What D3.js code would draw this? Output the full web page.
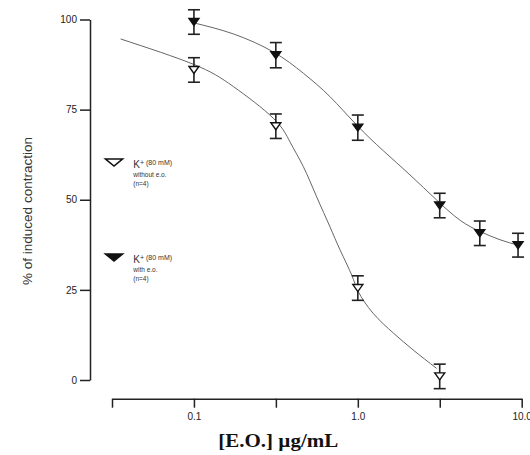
<!DOCTYPE html>
<html lang="en">
<head>
  <meta charset="UTF-8">
  <title>% of induced contraction vs [E.O.]</title>
  <script src="https://cdn.jsdelivr.net/npm/d3@7"></script>
  <style>
    body { margin: 0; background: #fff; }
    svg { display: block; }
    .axis path, .axis line { stroke: #222; stroke-width: 1.5px; }
    .axis text { font: 10px "Liberation Sans", Arial, sans-serif; fill: #222; }
    .curve { fill: none; stroke: #666; stroke-width: 1px; }
    .err { stroke: #222; stroke-width: 1.6px; }
    .leg { font-family: "Liberation Sans", Arial, sans-serif; fill: #333; }
  </style>
</head>
<body>
  <svg width="530" height="455"></svg>

  <script>
    // concentrations (µg/mL) and mean % contraction +/- SEM
    var conc = [0.1, 0.316, 1.0, 3.16, 5.55, 9.5];
    var withoutMean = [86.0, 70.4, 25.5, 1.0];
    var withoutErr = [3.4, 3.4, 3.4, 3.4];
    var withMean = [99.3, 90.1, 70.0, 48.4, 40.7, 37.4];
    var withErr = [3.4, 3.5, 3.5, 3.4, 3.4, 3.3];

    // fitted curves, points
    var withoutCurveX = [0.0357, 0.099, 0.174, 0.305, 0.386, 0.465, 0.561, 0.676, 0.779, 0.918, 1.007, 1.24, 1.65, 2.18, 3.03];
    var withoutCurveY = [94.6, 87.6, 81.4, 72.6, 66.0, 59.2, 50.8, 42.5, 36.1, 29.1, 24.5, 18.5, 13.0, 8.3, 3.2];
    var withCurveX = [0.099, 0.174, 0.305, 0.465, 0.676, 0.985, 1.43, 2.08, 3.03, 4.21, 5.57, 7.38, 9.53];
    var withCurveY = [99.1, 96.0, 91.0, 85.1, 78.6, 70.7, 63.6, 56.9, 49.9, 44.3, 41.2, 38.9, 37.4];

    var yTicks = [0, 25, 50, 75, 100];
    var xTicks = [Math.pow(10, -1.5), 0.1, Math.pow(10, -0.5), 1, Math.pow(10, 0.5), 10];
    var xTickLabels = ["", "0.1", "", "1.0", "", "10.0"];

    var svg = d3.select("svg");

    var x = d3.scaleLog().domain([Math.pow(10, -1.5), 10]).range([112, 521.7]);
    var y = d3.scaleLinear().domain([0, 100]).range([380, 19.5]);

    // axes
    svg.append("g")
      .attr("class", "axis")
      .attr("transform", "translate(90,0)")
      .call(d3.axisLeft(y).tickValues(yTicks).tickSize(10).tickSizeOuter(0).tickPadding(3));

    svg.append("g")
      .attr("class", "axis")
      .attr("transform", "translate(0,398.7)")
      .call(d3.axisBottom(x).tickValues(xTicks).tickSize(9).tickSizeOuter(0).tickPadding(5)
        .tickFormat(function (d, i) { return xTickLabels[i]; }));

    // axis titles
    svg.append("text")
      .attr("transform", "translate(32,211) rotate(-90)")
      .attr("text-anchor", "middle")
      .style("font", "13.5px 'Liberation Sans', Arial, sans-serif")
      .style("fill", "#333")
      .text("% of induced contraction");

    svg.append("text")
      .attr("x", 278.3)
      .attr("y", 446.5)
      .attr("text-anchor", "middle")
      .attr("textLength", 120)
      .attr("lengthAdjust", "spacingAndGlyphs")
      .style("font", "bold 18px 'Liberation Serif', 'Times New Roman', serif")
      .style("fill", "#111")
      .text("[E.O.] µg/mL");

    // curves
    var line = d3.line()
      .x(function (d) { return x(d[0]); })
      .y(function (d) { return y(d[1]); })
      .curve(d3.curveNatural);

    svg.append("path").attr("class", "curve").attr("d", line(d3.zip(withoutCurveX, withoutCurveY)));
    svg.append("path").attr("class", "curve").attr("d", line(d3.zip(withCurveX, withCurveY)));

    // triangle marker, pointing down
    function tri(cx, cy, w, h) {
      return "M" + (cx - w / 2) + "," + (cy - h / 2) + "L" + (cx + w / 2) + "," + (cy - h / 2) + "L" + cx + "," + (cy + h / 2) + "Z";
    }

    function drawSeries(means, errs, filled) {
      var pts = means.map(function (m, i) { return { x: conc[i], m: m, e: errs[i] }; });
      var g = svg.append("g");
      var eb = g.selectAll("g.eb").data(pts).enter().append("g").attr("class", "eb");
      eb.append("line").attr("class", "err")
        .attr("x1", function (d) { return x(d.x); }).attr("x2", function (d) { return x(d.x); })
        .attr("y1", function (d) { return y(d.m + d.e); }).attr("y2", function (d) { return y(d.m - d.e); });
      [1, -1].forEach(function (s) {
        eb.append("line").attr("class", "err")
          .attr("x1", function (d) { return x(d.x) - 6; }).attr("x2", function (d) { return x(d.x) + 6; })
          .attr("y1", function (d) { return y(d.m + s * d.e); }).attr("y2", function (d) { return y(d.m + s * d.e); });
      });
      g.selectAll("path").data(pts).enter().append("path")
        .attr("d", function (d) { return tri(x(d.x), y(d.m), 10, 7); })
        .style("fill", filled ? "#111" : "#fff")
        .style("stroke", "#111")
        .style("stroke-width", 1.4);
    }

    drawSeries(withoutMean, withoutErr, false);
    drawSeries(withMean, withErr, true);

    // legend
    function legendItem(ty, filled, line2) {
      svg.append("path")
        .attr("d", tri(114, ty, 17, 7))
        .style("fill", filled ? "#111" : "#fff")
        .style("stroke", "#111")
        .style("stroke-width", 1.6);
      var t = svg.append("text").attr("class", "leg").attr("x", 133.3).attr("y", ty + 5);
      t.append("tspan").style("font-size", "10px").text("K");
      t.append("tspan").style("font-size", "7px").attr("dy", -3).text("+ (80 mM)");
      svg.append("text").attr("class", "leg").attr("x", 133.3).attr("y", ty + 14)
        .style("font-size", "6.5px").text(line2);
      svg.append("text").attr("class", "leg").attr("x", 133.3).attr("y", ty + 23)
        .style("font-size", "6.5px").text("(n=4)");
    }

    legendItem(162.5, false, "without e.o.");
    legendItem(257.5, true, "with e.o.");
  </script>
</body>
</html>
